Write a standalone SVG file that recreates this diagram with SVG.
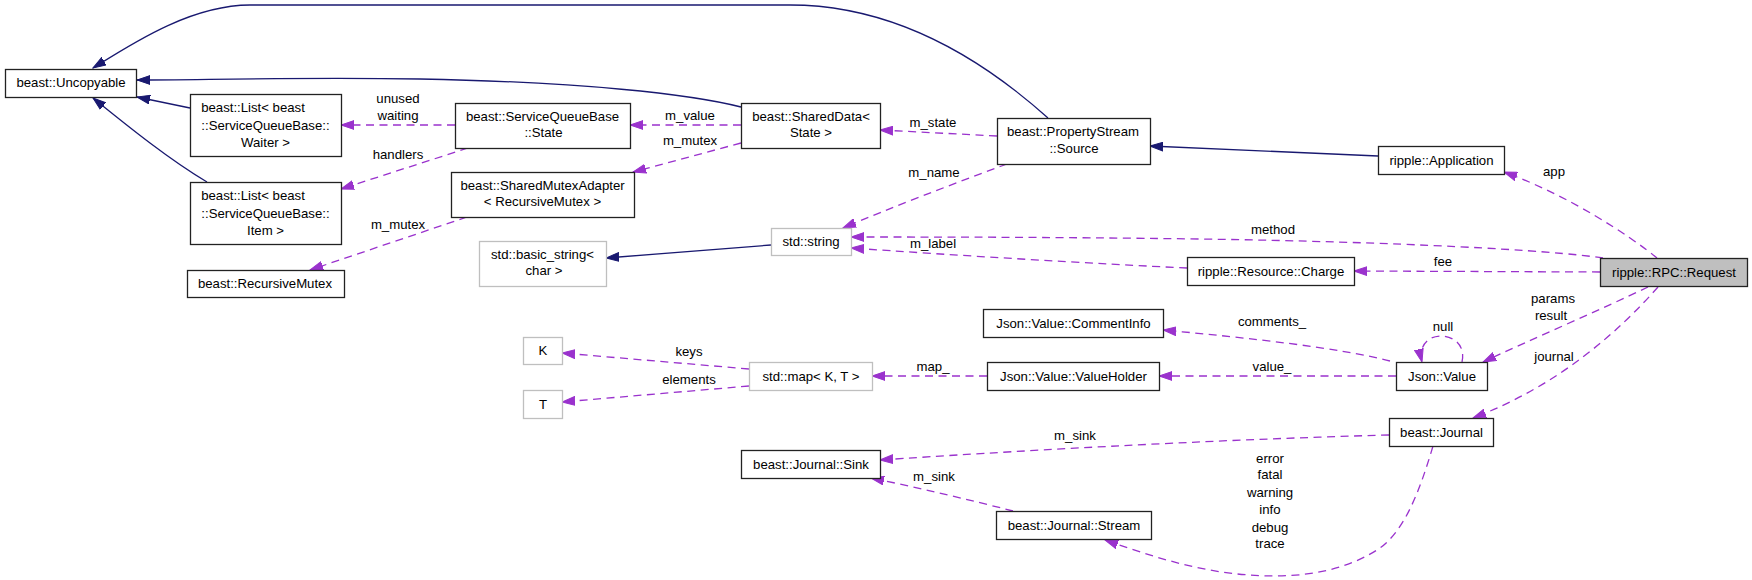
<svg xmlns="http://www.w3.org/2000/svg" width="1752" height="580" viewBox="0 0 1752 580">
<style>
text{font-family:"Liberation Sans",Arial,Helvetica,sans-serif;font-size:13.2px;fill:#000;text-anchor:middle}
rect.n{fill:#fff;stroke:#222;stroke-width:1.3}
rect.g{fill:#fff;stroke:#bfbfbf;stroke-width:1.3}
rect.s{fill:#bfbfbf;stroke:#222;stroke-width:1.3}
path.i{fill:none;stroke:#191970;stroke-width:1.3}
path.u{fill:none;stroke:#9a32cd;stroke-width:1.3;stroke-dasharray:8,5.5}
</style>
<defs>
<marker id="ai" viewBox="0 0 14 10" refX="13" refY="5" markerWidth="14" markerHeight="10" markerUnits="userSpaceOnUse" orient="auto"><path d="M0,0.6 L13,5 L0,9.4 z" fill="#191970" stroke="#191970" stroke-width="1"/></marker>
<marker id="au" viewBox="0 0 14 10" refX="13" refY="5" markerWidth="14" markerHeight="10" markerUnits="userSpaceOnUse" orient="auto"><path d="M0,0.6 L13,5 L0,9.4 z" fill="#9a32cd" stroke="#9a32cd" stroke-width="1"/></marker>
</defs>
<rect width="1752" height="580" fill="#fff"/>
<g id="edges">
<path class="i" marker-end="url(#ai)" d="M1048,118 C1000,75 910,5 790,5 L250,5 C190,5 130,45 93,68"/>
<path class="i" marker-end="url(#ai)" d="M741,107 C690,94 580,82 420,79 C300,77 200,80 137,80"/>
<path class="i" marker-end="url(#ai)" d="M190,108 L137,97"/>
<path class="i" marker-end="url(#ai)" d="M207,182 C170,160 130,128 93,98"/>
<path class="i" marker-end="url(#ai)" d="M771,245 L606,258"/>
<path class="i" marker-end="url(#ai)" d="M1378,156 L1150,146"/>

<path class="u" marker-end="url(#au)" d="M455,125 L341,125"/>
<text x="398" y="103">unused</text><text x="398" y="120">waiting</text>
<path class="u" marker-end="url(#au)" d="M468,148 L341,189"/>
<text x="398" y="159">handlers</text>
<path class="u" marker-end="url(#au)" d="M467,217 L310,270"/>
<text x="398" y="229">m_mutex</text>
<path class="u" marker-end="url(#au)" d="M741,125 L630,125"/>
<text x="690" y="120">m_value</text>
<path class="u" marker-end="url(#au)" d="M741,143 L633,172"/>
<text x="690" y="145">m_mutex</text>
<path class="u" marker-end="url(#au)" d="M997,136 L880,130"/>
<text x="933" y="127">m_state</text>
<path class="u" marker-end="url(#au)" d="M1007,164 C950,185 890,208 843,228"/>
<text x="934" y="177">m_name</text>
<path class="u" marker-end="url(#au)" d="M1603,258 C1550,250 1400,242 1200,239 C1050,237 920,237 851,237"/>
<text x="1273" y="234">method</text>
<path class="u" marker-end="url(#au)" d="M1187,268 C1100,264 950,255 851,248"/>
<text x="933" y="248">m_label</text>
<path class="u" marker-end="url(#au)" d="M1657,258 C1630,236 1570,196 1504,172"/>
<text x="1554" y="176">app</text>
<path class="u" marker-end="url(#au)" d="M1600,272 L1354,271"/>
<text x="1443" y="266">fee</text>
<path class="u" marker-end="url(#au)" d="M1648,287 C1600,310 1530,340 1483,362"/>
<text x="1553" y="303">params</text><text x="1551" y="320">result</text>
<path class="u" marker-end="url(#au)" d="M1658,287 C1620,330 1560,385 1473,418"/>
<text x="1554" y="361">journal</text>
<path class="u" marker-end="url(#au)" d="M1462,362 C1466,344 1452,336 1441,336 C1428,336 1418,346 1422,362"/>
<text x="1443" y="331">null</text>
<path class="u" marker-end="url(#au)" d="M1390,361 C1340,348 1250,338 1163,330"/>
<text x="1272" y="326">comments_</text>
<path class="u" marker-end="url(#au)" d="M1396,376 L1159,376"/>
<text x="1272" y="371">value_</text>
<path class="u" marker-end="url(#au)" d="M987,376 L872,376"/>
<text x="933" y="371">map_</text>
<path class="u" marker-end="url(#au)" d="M749,369 L562,353"/>
<text x="689" y="356">keys</text>
<path class="u" marker-end="url(#au)" d="M749,386 L562,402"/>
<text x="689" y="384">elements</text>
<path class="u" marker-end="url(#au)" d="M1389,435 C1200,440 1000,452 880,460"/>
<text x="1075" y="440">m_sink</text>
<path class="u" marker-end="url(#au)" d="M1013,511 C970,500 920,488 871,478"/>
<text x="934" y="481">m_sink</text>
<path class="u" marker-end="url(#au)" d="M1433,446 C1420,490 1405,530 1380,548 C1340,575 1290,578 1250,575 C1200,572 1150,556 1105,540"/>
<text x="1270" y="463">error</text><text x="1270" y="479">fatal</text><text x="1270" y="497">warning</text><text x="1270" y="514">info</text><text x="1270" y="532">debug</text><text x="1270" y="548">trace</text>
</g>

<g id="node-uncopyable"><rect class="n" x="5.5" y="69.5" width="131" height="28"/><text x="71" y="87">beast::Uncopyable</text></g>
<g id="node-list-waiter"><rect class="n" x="190.5" y="94.5" width="151" height="62"/><text x="253" y="112">beast::List&lt; beast</text><text x="265.5" y="129.5">::ServiceQueueBase::</text><text x="265.5" y="146.5">Waiter &gt;</text></g>
<g id="node-list-item"><rect class="n" x="190.5" y="182.5" width="151" height="62"/><text x="253" y="200">beast::List&lt; beast</text><text x="265.5" y="217.5">::ServiceQueueBase::</text><text x="265.5" y="234.5">Item &gt;</text></g>
<g id="node-recursivemutex"><rect class="n" x="187.5" y="270.5" width="157" height="27"/><text x="265" y="288">beast::RecursiveMutex</text></g>
<g id="node-state"><rect class="n" x="455.5" y="103.5" width="175" height="45"/><text x="542.5" y="120.5">beast::ServiceQueueBase</text><text x="543.5" y="137">::State</text></g>
<g id="node-adapter"><rect class="n" x="451.5" y="172.5" width="183" height="45"/><text x="542.5" y="189.5">beast::SharedMutexAdapter</text><text x="542.5" y="206">&lt; RecursiveMutex &gt;</text></g>
<g id="node-shareddata"><rect class="n" x="741.5" y="103.5" width="139" height="45"/><text x="811" y="120.5">beast::SharedData&lt;</text><text x="811" y="137">State &gt;</text></g>
<g id="node-string"><rect class="g" x="771.5" y="228.5" width="80" height="27"/><text x="811" y="246">std::string</text></g>
<g id="node-basic-string"><rect class="g" x="479.5" y="241.5" width="127" height="45"/><text x="542.5" y="258.5">std::basic_string&lt;</text><text x="544" y="275">char &gt;</text></g>
<g id="node-source"><rect class="n" x="997.5" y="118.5" width="153" height="46"/><text x="1073" y="136">beast::PropertyStream</text><text x="1074" y="152.5">::Source</text></g>
<g id="node-application"><rect class="n" x="1378.5" y="146.5" width="126" height="28"/><text x="1441.5" y="164.5">ripple::Application</text></g>
<g id="node-charge"><rect class="n" x="1187.5" y="257.5" width="167" height="28"/><text x="1271" y="275.5">ripple::Resource::Charge</text></g>
<g id="node-request"><rect class="s" x="1600.5" y="258.5" width="147" height="28"/><text x="1674" y="276.5">ripple::RPC::Request</text></g>
<g id="node-k"><rect class="g" x="523.5" y="337.5" width="39" height="27"/><text x="543" y="355">K</text></g>
<g id="node-t"><rect class="g" x="523.5" y="390.5" width="39" height="28"/><text x="543" y="408.5">T</text></g>
<g id="node-map"><rect class="g" x="749.5" y="362.5" width="123" height="28"/><text x="811" y="380.5">std::map&lt; K, T &gt;</text></g>
<g id="node-commentinfo"><rect class="n" x="983.5" y="309.5" width="180" height="28"/><text x="1073.5" y="327.5">Json::Value::CommentInfo</text></g>
<g id="node-valueholder"><rect class="n" x="987.5" y="362.5" width="172" height="28"/><text x="1073.5" y="380.5">Json::Value::ValueHolder</text></g>
<g id="node-json-value"><rect class="n" x="1396.5" y="362.5" width="91" height="28"/><text x="1442" y="380.5">Json::Value</text></g>
<g id="node-journal"><rect class="n" x="1389.5" y="418.5" width="104" height="28"/><text x="1441.5" y="436.5">beast::Journal</text></g>
<g id="node-sink"><rect class="n" x="741.5" y="450.5" width="139" height="28"/><text x="811" y="468.5">beast::Journal::Sink</text></g>
<g id="node-stream"><rect class="n" x="996.5" y="511.5" width="155" height="28"/><text x="1074" y="529.5">beast::Journal::Stream</text></g>
</svg>
